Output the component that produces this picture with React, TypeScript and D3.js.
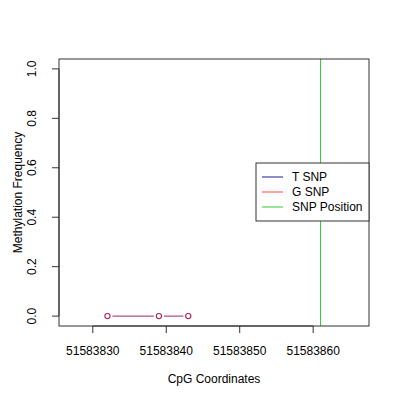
// @ts-nocheck
import React, { useEffect, useRef } from 'react';
import * as d3 from 'd3';

const positions = [51583832, 51583839, 51583843];
const gValues = [0, 0, 0];
const snpPosition = 51583861;
const xTicks = [51583830, 51583840, 51583850, 51583860];
const yTicks = [0, 0.2, 0.4, 0.6, 0.8, 1.0];
const legendLabels = ['T SNP', 'G SNP', 'SNP Position'];
const legendColors = ['#1a1a99', '#ff4444', '#33cc33'];

export default function App() {
  const svgRef = useRef();

  useEffect(() => {
    document.body.style.margin = '0';
    const svg = d3.select(svgRef.current);
    svg.selectAll('*').remove();
    const font = 'Liberation Sans, Arial, sans-serif';
    const fs = 12;

    const left = 59, right = 369, top = 59, bottom = 326;
    const x = d3.scaleLinear().domain([51583825.4, 51583867.6]).range([left, right]);
    const y = d3.scaleLinear().domain([-0.04, 1.04]).range([bottom, top]);

    svg.append('rect').attr('width', 400).attr('height', 400).attr('fill', 'white');

    // snp line
    svg.append('line')
      .attr('x1', x(snpPosition)).attr('x2', x(snpPosition))
      .attr('y1', top).attr('y2', bottom)
      .attr('stroke', '#33cc33').attr('stroke-width', 1);

    // segments between points (type "b" with gaps)
    const col = '#a3245f';
    const gap = 5;
    for (let i = 0; i < positions.length - 1; i++) {
      const x1 = x(positions[i]), y1 = y(gValues[i]);
      const x2 = x(positions[i + 1]), y2 = y(gValues[i + 1]);
      const len = Math.hypot(x2 - x1, y2 - y1);
      if (len <= 2 * gap) continue;
      const ux = (x2 - x1) / len, uy = (y2 - y1) / len;
      svg.append('line')
        .attr('x1', x1 + ux * gap).attr('y1', y1 + uy * gap)
        .attr('x2', x2 - ux * gap).attr('y2', y2 - uy * gap)
        .attr('stroke', col).attr('stroke-width', 1);
    }
    svg.selectAll('circle.pt')
      .data(positions)
      .join('circle')
      .attr('class', 'pt')
      .attr('cx', (d) => x(d))
      .attr('cy', (d, i) => y(gValues[i]))
      .attr('r', 2.6)
      .attr('fill', 'none')
      .attr('stroke', col)
      .attr('stroke-width', 1.1);

    // box
    svg.append('rect')
      .attr('x', left).attr('y', top)
      .attr('width', right - left).attr('height', bottom - top)
      .attr('fill', 'none').attr('stroke', '#333').attr('stroke-width', 1);

    // x axis
    const xa = svg.append('g');
    xa.append('line').attr('x1', x(xTicks[0])).attr('x2', x(xTicks[xTicks.length - 1]))
      .attr('y1', bottom).attr('y2', bottom).attr('stroke', '#333');
    xTicks.forEach((t) => {
      xa.append('line').attr('x1', x(t)).attr('x2', x(t)).attr('y1', bottom).attr('y2', bottom + 7).attr('stroke', '#333');
      xa.append('text').attr('x', x(t)).attr('y', 355).attr('text-anchor', 'middle')
        .attr('font-family', font).attr('font-size', fs).text(t);
    });

    // y axis
    const ya = svg.append('g');
    ya.append('line').attr('x1', left).attr('x2', left).attr('y1', y(0)).attr('y2', y(1)).attr('stroke', '#333');
    yTicks.forEach((t) => {
      ya.append('line').attr('x1', left - 7).attr('x2', left).attr('y1', y(t)).attr('y2', y(t)).attr('stroke', '#333');
      ya.append('text').attr('transform', `translate(36,${y(t)}) rotate(-90)`)
        .attr('text-anchor', 'middle').attr('font-family', font).attr('font-size', fs)
        .text(t.toFixed(1));
    });

    svg.append('text').attr('x', 214).attr('y', 383).attr('text-anchor', 'middle')
      .attr('font-family', font).attr('font-size', fs).text('CpG Coordinates');
    svg.append('text').attr('transform', `translate(22,${(top + bottom) / 2}) rotate(-90)`)
      .attr('text-anchor', 'middle').attr('font-family', font).attr('font-size', fs)
      .text('Methylation Frequency');

    // legend
    const lg = svg.append('g');
    lg.append('rect').attr('x', 256).attr('y', 163).attr('width', 113).attr('height', 58)
      .attr('fill', 'white').attr('stroke', '#333');
    legendLabels.forEach((l, i) => {
      const yy = 177 + i * 15;
      lg.append('line').attr('x1', 262).attr('x2', 283).attr('y1', yy).attr('y2', yy)
        .attr('stroke', legendColors[i]);
      lg.append('text').attr('x', 292).attr('y', yy + 4).attr('font-family', font)
        .attr('font-size', fs).text(l);
    });
  }, []);

  return <svg ref={svgRef} width={400} height={400} style={{ display: 'block' }} />;
}
